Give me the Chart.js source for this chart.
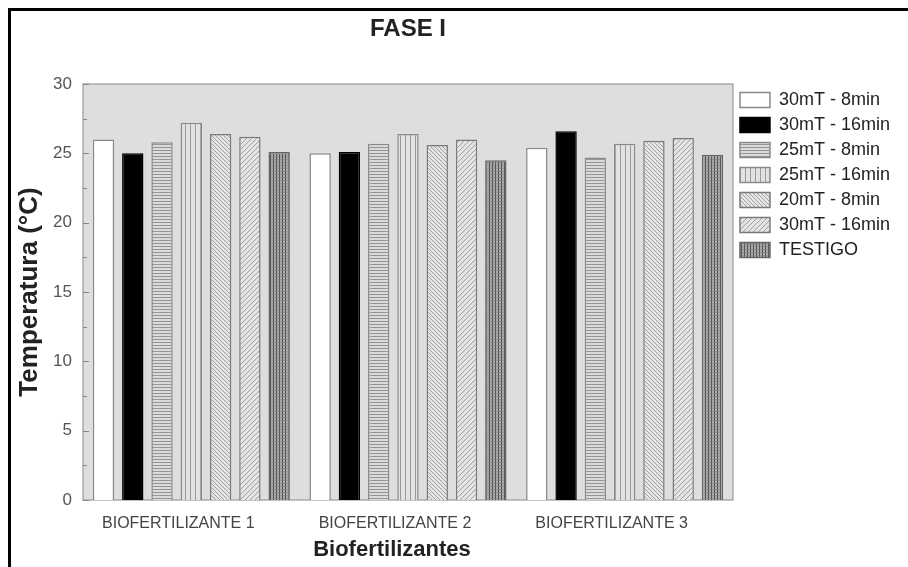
<!DOCTYPE html>
<html>
<head>
<meta charset="utf-8">
<script src="https://cdn.jsdelivr.net/npm/chart.js@4"></script>
<style>
  html,body{margin:0;padding:0;background:#fff;}
  #wrap{width:908px;height:567px;position:relative;}
</style>
</head>
<body>
<div id="wrap"><canvas id="chart" width="908" height="567"></canvas></div>
<script>
// DATA
const categories = ["BIOFERTILIZANTE 1","BIOFERTILIZANTE 2","BIOFERTILIZANTE 3"];
const seriesNames = ["30mT - 8min","30mT - 16min","25mT - 8min","25mT - 16min","20mT - 8min","30mT - 16min","TESTIGO"];
const s30_8   = [26.0, 25.0, 25.4];
const s30_16  = [25.0, 25.1, 26.6];
const s25_8   = [25.8, 25.7, 24.7];
const s25_16  = [27.2, 26.4, 25.7];
const s20_8   = [26.4, 25.6, 25.9];
const s30_16b = [26.2, 26.0, 26.1];
const testigo = [25.1, 24.5, 24.9];
const yTicks = [0,5,10,15,20,25,30];

const FONT = "'Liberation Sans', Arial, sans-serif";

// PATTERNS
function makePattern(size, bg, draw){
  const c = document.createElement("canvas");
  c.width = size; c.height = size;
  const x = c.getContext("2d");
  x.fillStyle = bg;
  x.fillRect(0,0,size,size);
  draw(x,size);
  return x.createPattern(c,"repeat");
}
function lines(x, color, w, segs){
  x.strokeStyle = color; x.lineWidth = w;
  x.beginPath();
  segs.forEach(s=>{ x.moveTo(s[0],s[1]); x.lineTo(s[2],s[3]); });
  x.stroke();
}
const pHoriz = makePattern(3,"#dadada",(x,n)=>lines(x,"#959595",1,[[0,0.5,n,0.5]]));
const pVert  = makePattern(5,"#e2e2e2",(x,n)=>lines(x,"#9a9a9a",1,[[0.5,0,0.5,n]]));
const pBack  = makePattern(4,"#e4e4e4",(x,n)=>lines(x,"#a0a0a0",1,[[0,0,n,n],[-n,0,n,2*n],[0,-n,2*n,n]]));
const pFwd   = makePattern(5,"#e4e4e4",(x,n)=>lines(x,"#a0a0a0",1,[[0,n,n,0],[-n,n,n,-n],[0,2*n,2*n,0]]));
const pGrid  = makePattern(3,"#aaaaaa",(x,n)=>{ lines(x,"#505050",1,[[0.5,0,0.5,n]]); lines(x,"#808080",0.6,[[0,0.5,n,0.5]]); });

const fills   = ["#ffffff","#000000",pHoriz,pVert,pBack,pFwd,pGrid];
const borders = ["#8a8a8a","#000000","#8a8a8a","#8a8a8a","#7a7a7a","#7a7a7a","#666666"];
const values  = [s30_8,s30_16,s25_8,s25_16,s20_8,s30_16b,testigo];

// PLOT BACKGROUND + FRAME + TITLES + INWARD TICKS
const decor = {
  id:"decor",
  beforeDraw(chart){
    const {ctx, chartArea:a} = chart;
    ctx.save();
    ctx.fillStyle = "#fff";
    ctx.fillRect(0,0,chart.width,chart.height);
    ctx.fillStyle = "#dedede";
    ctx.fillRect(a.left,a.top,a.right-a.left,a.bottom-a.top);
    ctx.strokeStyle = "#9a9a9a"; ctx.lineWidth = 1.2;
    ctx.strokeRect(a.left,a.top,a.right-a.left,a.bottom-a.top);
    // outer frame
    ctx.strokeStyle = "#000"; ctx.lineWidth = 3;
    ctx.beginPath();
    ctx.moveTo(9.5,chart.height); ctx.lineTo(9.5,9.5); ctx.lineTo(chart.width,9.5);
    ctx.stroke();
    ctx.restore();
  },
  afterDatasetsDraw(chart){
    const {ctx, chartArea:a, scales:{y}} = chart;
    ctx.save();
    ctx.strokeStyle = "#888"; ctx.lineWidth = 1;
    ctx.beginPath();
    for(let v=0; v<=30; v+=2.5){
      const py = Math.round(y.getPixelForValue(v))+0.5;
      const len = (v%5===0)?6:4;
      ctx.moveTo(a.left,py); ctx.lineTo(a.left+len,py);
    }
    ctx.stroke();
    ctx.fillStyle = "#222";
    ctx.textAlign = "center"; ctx.textBaseline = "middle";
    ctx.font = "bold 24px "+FONT;
    ctx.fillText("FASE I",(a.left+a.right)/2,29);
    ctx.font = "bold 22px "+FONT;
    ctx.fillText("Biofertilizantes",(a.left+a.right)/2-16,550);
    ctx.restore();
  }
};

new Chart(document.getElementById("chart"),{
  type:"bar",
  data:{
    labels:categories,
    datasets:seriesNames.map((n,i)=>({
      label:n,
      data:values[i],
      backgroundColor:fills[i],
      borderColor:borders[i],
      borderWidth:1.5,
      barPercentage:0.73,
      categoryPercentage:0.946
    }))
  },
  options:{
    responsive:false,
    animation:false,
    layout:{padding:{top:84,left:14,right:8,bottom:0}},
    plugins:{
      legend:{
        position:"right",
        align:"start",
        labels:{
          color:"#222",
          font:{family:FONT,size:18},
          boxWidth:30,
          boxHeight:15,
          padding:7
        }
      },
      tooltip:{enabled:false}
    },
    scales:{
      x:{
        grid:{display:false,drawTicks:false},
        border:{display:false},
        ticks:{color:"#444",font:{family:FONT,size:16},padding:14,labelOffset:-13},
        afterFit(s){ s.height = 67; }
      },
      y:{
        min:0,max:30,
        afterBuildTicks(s){ s.ticks = yTicks.map(v=>({value:v})); },
        grid:{display:false,drawTicks:false},
        border:{display:false},
        ticks:{color:"#555",font:{family:FONT,size:17},padding:11},
        title:{display:true,text:"Temperatura (°C)",color:"#222",
               font:{family:FONT,size:26,weight:"bold"},padding:{top:0,bottom:3}},
        afterFit(s){ s.width = 69; }
      }
    }
  },
  plugins:[decor]
});
</script>
</body>
</html>
